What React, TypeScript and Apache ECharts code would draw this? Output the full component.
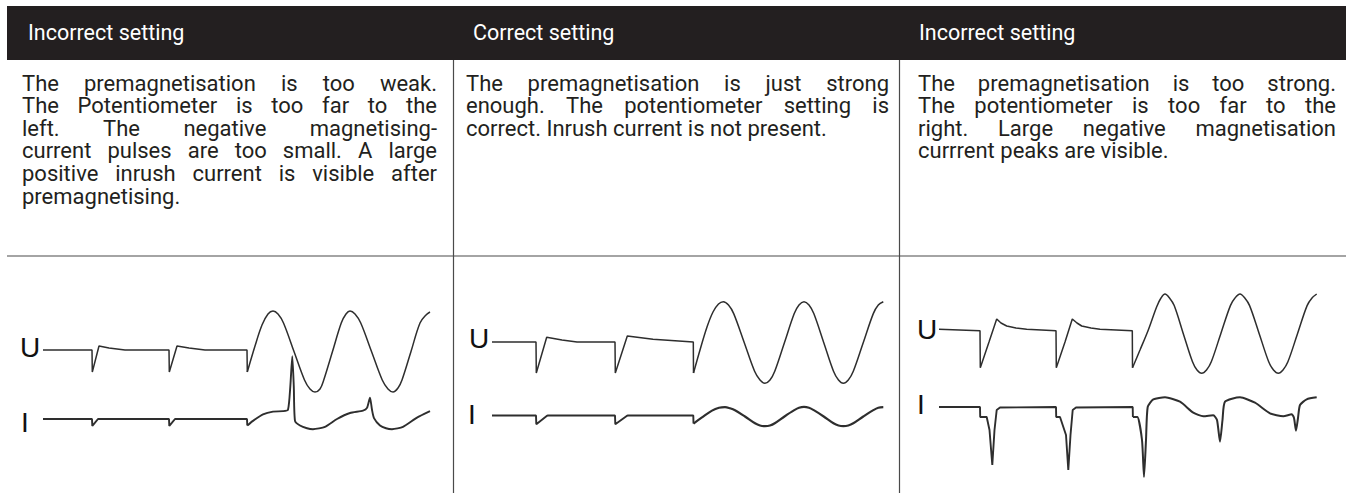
import React, { useEffect, useRef } from "react";
import * as echarts from "echarts";

// ---------- text content ----------
const headers = ["Incorrect setting", "Correct setting", "Incorrect setting"];
const textCol1 = [
  "The premagnetisation is too weak.",
  "The Potentiometer is too far to the",
  "left. The negative magnetising-",
  "current pulses are too small. A large",
  "positive inrush current is visible after",
  "premagnetising.",
];
const textCol2 = [
  "The premagnetisation is just strong",
  "enough. The potentiometer setting is",
  "correct. Inrush current is not present.",
];
const textCol3 = [
  "The premagnetisation is too strong.",
  "The potentiometer is too far to the",
  "right. Large negative magnetisation",
  "currrent peaks are visible.",
];
const traceLabels = ["U", "I"];

// ---------- traces: [sample, level] ----------
const leftUPre: [number, number][] = [
  [0, 0], [49, 0], [49.3, -22], [56, 4], [66, 2], [82, 0], [126, 0], [126.3, -22],
  [134, 4], [146, 2], [162, 0], [204, 0], [204.3, -22],
];
const leftUSine: [number, number][] = [
  [204.3, -22], [212, 4], [219, 25], [225, 36], [230, 39], [235, 36], [240.5, 27],
  [251, -1.5], [261.5, -30], [267, -39], [272, -42], [277, -39], [280.75, -30],
  [289.5, -1.5], [298.25, 27], [303, 36], [307, 39], [312, 36], [317.75, 27],
  [328.5, -1.5], [339.25, -30], [345, -39], [350, -42], [355, -38], [359, -30],
  [368, -1.5], [377, 27], [383, 35], [387, 38],
];
const leftIPre: [number, number][] = [
  [0, 0], [49, 0], [49.3, -7.5], [52, -4], [55, 0], [126, 0], [126.3, -7.5],
  [129, -4], [132, 0], [204, 0], [204.3, -7],
];
const leftIPost: [number, number][] = [
  [204.3, -7], [210, -2], [220, 5], [230, 8], [240, 8.5], [245, 10], [247.3, 35],
  [249.3, 68], [250.8, 35], [252, -2], [257, -7], [264, -10], [270, -11],
  [282, -8.5], [294, 0], [307, 6.5], [320, 9], [324, 12], [327, 23], [329, 10],
  [331, 1], [337, -7], [343, -10], [349, -11], [360, -8.5], [374, 1.5], [387, 8.5],
];

const midUPre: [number, number][] = [
  [0, 0], [44, 0], [44.3, -31], [54.7, 4.7], [70, 2], [85, 0], [123, 0],
  [123.3, -31], [135.3, 6], [161, 2.7], [201.3, 0], [201.5, -31],
];
const midUSine: [number, number][] = [
  [201.5, -31], [208, -8], [215, 15], [221, 30], [226.5, 38], [231.3, 40.3],
  [236.5, 37], [241.7, 28.4], [252.2, -0.5], [262.6, -29.3], [268, -38],
  [273, -41.3], [278, -38], [282.75, -29.3], [292.5, -0.5], [302.25, 28.4],
  [307, 37], [312, 40.3], [317, 37], [321.8, 28.4], [331.7, -0.5], [341.5, -29.3],
  [346.5, -38], [351.3, -41.3], [356.3, -38], [361.3, -29.3], [371.3, -0.5],
  [381.3, 28.4], [386.3, 37], [391.3, 40.3],
];
const midIPre: [number, number][] = [
  [0, 0], [44, 0], [44.3, -9], [54.7, -0.5], [56, 0], [123, 0], [123.3, -9],
  [134.7, -0.5], [136, 0], [201.3, 0], [201.5, -8.3],
];
const midISine: [number, number][] = [
  [201.5, -8.3], [210, -2], [220, 5], [227, 8], [233, 8.7], [238, 7.5], [243, 5.5],
  [253, -1], [263, -8], [268, -10.3], [273, -11], [278, -10.3], [282.75, -8],
  [292.5, -1], [302.25, 5.5], [307, 8], [312, 9], [317, 8], [321.8, 5.5],
  [331.7, -1], [341.5, -8], [346.5, -10.3], [351.3, -11], [356.3, -10.3],
  [361.3, -8], [371.3, -1], [381.3, 5.5], [386.3, 8], [391.3, 8.7],
];

const rightUPre: [number, number][] = [
  [0, 0.7], [41, -0.7], [41.3, -37.7], [50, -12], [57.7, 11], [62, 7], [67.7, 4],
  [77, 2], [87.7, 0.7], [117, -0.7], [117.3, -37.7], [126, -12], [133.3, 11],
  [138, 7], [142.7, 4], [152, 2], [161, 0.7], [193.3, -0.7], [193.5, -37.7],
];
const rightUSine: [number, number][] = [
  [193.5, -37.7], [201, -20], [209.3, 0], [217.7, 23.3], [222, 32], [226, 36],
  [230.5, 32], [235.2, 24.4], [244.3, -3.7], [253.5, -31.8], [258, -40],
  [262.7, -43.3], [267.5, -40], [272.3, -31.8], [281.8, -3.7], [291.4, 24.4],
  [296, 32], [301, 36], [305.8, 32], [310.6, 24.4], [320.2, -3.7], [329.7, -31.8],
  [334.5, -40], [339.3, -43.3], [344, -40], [348.9, -31.8], [358.5, -3.7],
  [368.1, 24.4], [373, 32], [377.7, 36],
];
const rightIPre: [number, number][] = [
  [0, 0], [41, 0], [41.2, -10], [47.7, -10], [50.5, -23], [53.3, -58], [55.5, -23],
  [57.7, -3], [61, -0.5], [117, 0], [117.2, -10], [121, -10], [127, -28],
  [129.3, -63], [131.5, -28], [133.7, -3], [137, -0.5], [193.7, 0], [193.9, -10],
];
const rightIPost: [number, number][] = [
  [193.9, -10], [198.3, -10], [203, -33], [205, -70], [207, -33], [208.7, 0],
  [214.3, 7.7], [226, 9.7], [241, 5.3], [254.3, -5.7], [264.3, -9.3], [274.3, -8.3],
  [278, -13], [281, -34.7], [283.5, -13], [286, 5.3], [301, 9.7], [316, 4.3],
  [331, -6.3], [344.3, -9.3], [352.7, -7.3], [355, -11], [357, -23.7], [359, -11],
  [361, 2], [367.7, 7.7], [377.7, 9.7],
];

// ---------- layout ----------
const W = 1347;
const H = 493;
const BAND = { x: 7, y: 6, w: 1339, h: 54 };
const COL_LINES = [453.5, 899.5];
const ROW_LINE_Y = 256;
const HEADER_X = [28, 473, 919];
const HEADER_Y = 32;
const TEXT_COLS: [number, number][] = [[22, 437], [466, 889], [918, 1336]];
const TEXT_Y0 = 83;
const TEXT_STEP = 22.6;
const BODY_FONT = { size: 22, family: "Roboto", weight: 400 };
const HEAD_FONT = { size: 21.5, family: "Roboto", weight: 400 };
const DARK = "#231f20";

const PANEL_LEFT = [43, 492, 939];
const PANEL_WIDTH = [390, 392, 378];
const U_BASE = [350, 342, 330];
const I_BASE = [425, 418, 407];
const LABEL_U: [number, number][] = [[20, 347], [469, 338], [917, 329]];
const LABEL_I: [number, number][] = [[21, 422], [468, 414], [917, 404]];

function buildOption() {
  const canvas = document.createElement("canvas");
  const ctx = canvas.getContext("2d")!;
  const bodyFont = `${BODY_FONT.weight} ${BODY_FONT.size}px ${BODY_FONT.family}`;
  ctx.font = bodyFont;
  const wOf = (s: string) => ctx.measureText(s).width;

  const textEl = (t: string, x: number, y: number, f: any, fill: string) => ({
    type: "text",
    x,
    y,
    silent: true,
    style: {
      text: t,
      fill,
      fontSize: f.size,
      fontFamily: f.family,
      fontWeight: f.weight,
      textAlign: "left",
      textVerticalAlign: "middle",
      align: "left",
      verticalAlign: "middle",
    },
  });

  const elements: any[] = [];
  elements.push({
    type: "rect",
    silent: true,
    shape: { x: BAND.x, y: BAND.y, width: BAND.w, height: BAND.h },
    style: { fill: DARK },
  });
  elements.push({
    type: "line",
    silent: true,
    shape: { x1: BAND.x, y1: ROW_LINE_Y, x2: BAND.x + BAND.w, y2: ROW_LINE_Y },
    style: { stroke: "#4a4a4a", lineWidth: 1.2 },
  });
  COL_LINES.forEach((x) =>
    elements.push({
      type: "line",
      silent: true,
      shape: { x1: x, y1: BAND.y + BAND.h, x2: x, y2: H },
      style: { stroke: "#4a4a4a", lineWidth: 1.2 },
    })
  );
  headers.forEach((h, i) => elements.push(textEl(h, HEADER_X[i], HEADER_Y, HEAD_FONT, "#ffffff")));

  [textCol1, textCol2, textCol3].forEach((lines, c) => {
    const [x0, x1] = TEXT_COLS[c];
    lines.forEach((line, i) => {
      const y = TEXT_Y0 + i * TEXT_STEP;
      if (i === lines.length - 1) {
        elements.push(textEl(line, x0, y, BODY_FONT, DARK));
        return;
      }
      const words = line.split(" ").filter(Boolean);
      const ws = words.map(wOf);
      const total = ws.reduce((a, b) => a + b, 0);
      const gap = words.length > 1 ? (x1 - x0 - total) / (words.length - 1) : 0;
      let x = x0;
      words.forEach((w, j) => {
        elements.push(textEl(w, x, y, BODY_FONT, DARK));
        x += ws[j] + gap;
      });
    });
  });

  const labelFont = { size: 28, family: "Liberation Sans", weight: 400 };
  for (let p = 0; p < 3; p++) {
    elements.push(textEl(traceLabels[0], LABEL_U[p][0], LABEL_U[p][1], labelFont, "#111"));
    elements.push(textEl(traceLabels[1], LABEL_I[p][0], LABEL_I[p][1], labelFont, "#111"));
  }

  const grids: any[] = [];
  const xAxes: any[] = [];
  const yAxes: any[] = [];
  for (let p = 0; p < 3; p++) {
    [U_BASE[p], I_BASE[p]].forEach((base) => {
      const gi = grids.length;
      grids.push({ left: PANEL_LEFT[p], width: PANEL_WIDTH[p], top: base - 80, height: 160 });
      xAxes.push({ type: "value", gridIndex: gi, min: 0, max: PANEL_WIDTH[p], show: false });
      yAxes.push({ type: "value", gridIndex: gi, min: -80, max: 80, show: false });
    });
  }

  const traceSets: { data: [number, number][]; idx: number; smooth: number; width: number }[] = [
    { data: leftUPre, idx: 0, smooth: 0, width: 1.5 },
    { data: leftUSine, idx: 0, smooth: 0.35, width: 1.5 },
    { data: leftIPre, idx: 1, smooth: 0, width: 1.9 },
    { data: leftIPost, idx: 1, smooth: 0.2, width: 1.9 },
    { data: midUPre, idx: 2, smooth: 0, width: 1.5 },
    { data: midUSine, idx: 2, smooth: 0.35, width: 1.5 },
    { data: midIPre, idx: 3, smooth: 0, width: 1.9 },
    { data: midISine, idx: 3, smooth: 0.35, width: 2.2 },
    { data: rightUPre, idx: 4, smooth: 0, width: 1.5 },
    { data: rightUSine, idx: 4, smooth: 0.35, width: 1.5 },
    { data: rightIPre, idx: 5, smooth: 0, width: 1.9 },
    { data: rightIPost, idx: 5, smooth: 0.2, width: 2 },
  ];

  const series = traceSets.map((t) => ({
    type: "line",
    xAxisIndex: t.idx,
    yAxisIndex: t.idx,
    data: t.data,
    symbol: "none",
    showSymbol: false,
    smooth: t.smooth || false,
    silent: true,
    clip: false,
    lineStyle: { color: "#2e2e2e", width: t.width },
  }));

  return {
    animation: false,
    backgroundColor: "#ffffff",
    grid: grids,
    xAxis: xAxes,
    yAxis: yAxes,
    series,
    graphic: { elements },
  };
}

export default function App() {
  const ref = useRef<HTMLDivElement>(null);
  useEffect(() => {
    if (!ref.current) return;
    const chart = echarts.init(ref.current, null, { renderer: "svg" });
    chart.setOption(buildOption() as any);
    return () => chart.dispose();
  }, []);
  return (
    <div
      ref={ref}
      style={{ position: "absolute", left: 0, top: 0, width: W, height: H, background: "#fff" }}
    />
  );
}
